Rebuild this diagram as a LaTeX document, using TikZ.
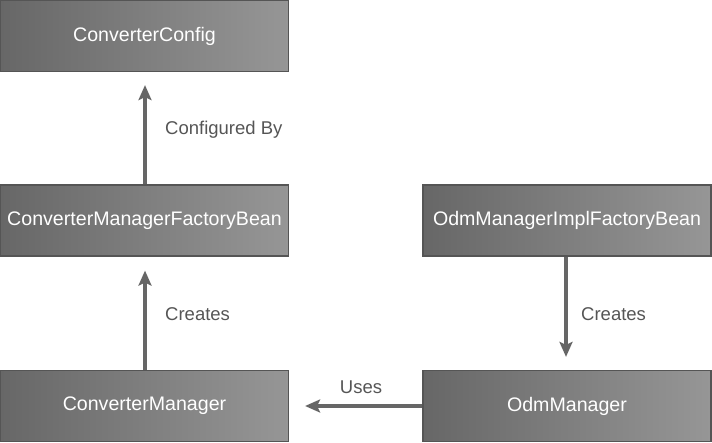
\documentclass[tikz,border=0pt]{standalone}
\usepackage{fontspec}
\setmainfont{Liberation Sans}
\usetikzlibrary{arrows.meta}
\definecolor{boxL}{HTML}{676767}
\definecolor{boxR}{HTML}{969696}
\definecolor{boxB}{HTML}{555555}
\definecolor{arr}{HTML}{666666}
\definecolor{lbl}{HTML}{555555}
\begin{document}
\begin{tikzpicture}[x=1pt,y=1pt,
  box/.style={draw=boxB, line width=1.2pt, left color=boxL, right color=boxR,
    minimum height=71pt, inner sep=0pt, text=white,
    font=\fontsize{19.6}{22}\selectfont},
  conn/.style={draw=arr, line width=4pt, -{Stealth[length=15pt,width=13pt,inset=3pt]}},
  lab/.style={text=lbl, font=\fontsize{18.5}{22}\selectfont, inner sep=0pt}]
\useasboundingbox (0,0) rectangle (712,442);
\node[box, minimum width=288pt] (cc) at (144.5,406) {ConverterConfig};
\node[box, minimum width=288pt] (cmfb) at (144.5,221.5) {ConverterManagerFactoryBean};
\node[box, minimum width=288pt] (omifb) at (567,221.5) {OdmManagerImplFactoryBean};
\node[box, minimum width=288pt] (cm) at (144.5,36) {ConverterManager};
\node[box, minimum width=288pt] (om) at (567,36) {OdmManager};
\draw[conn, shorten >=13pt] ([xshift=0.5pt]cmfb.north) -- ([xshift=0.5pt]cc.south);
\draw[conn, shorten >=14pt] ([xshift=0.5pt]cm.north) -- ([xshift=0.5pt]cmfb.south);
\draw[conn, shorten >=13pt] ([xshift=-1pt]omifb.south) -- ([xshift=-1pt]om.north);
\draw[conn, shorten >=16pt] (om.west) -- (cm.east);
\node[lab, anchor=west] (l1) at (165,312) {Configured By};
\node[lab, anchor=west] (l2) at (165,128) {Creates};
\node[lab, anchor=west] (l3) at (581,128) {Creates};
\node[lab] (l4) at (361,55) {Uses};
\end{tikzpicture}
\end{document}
